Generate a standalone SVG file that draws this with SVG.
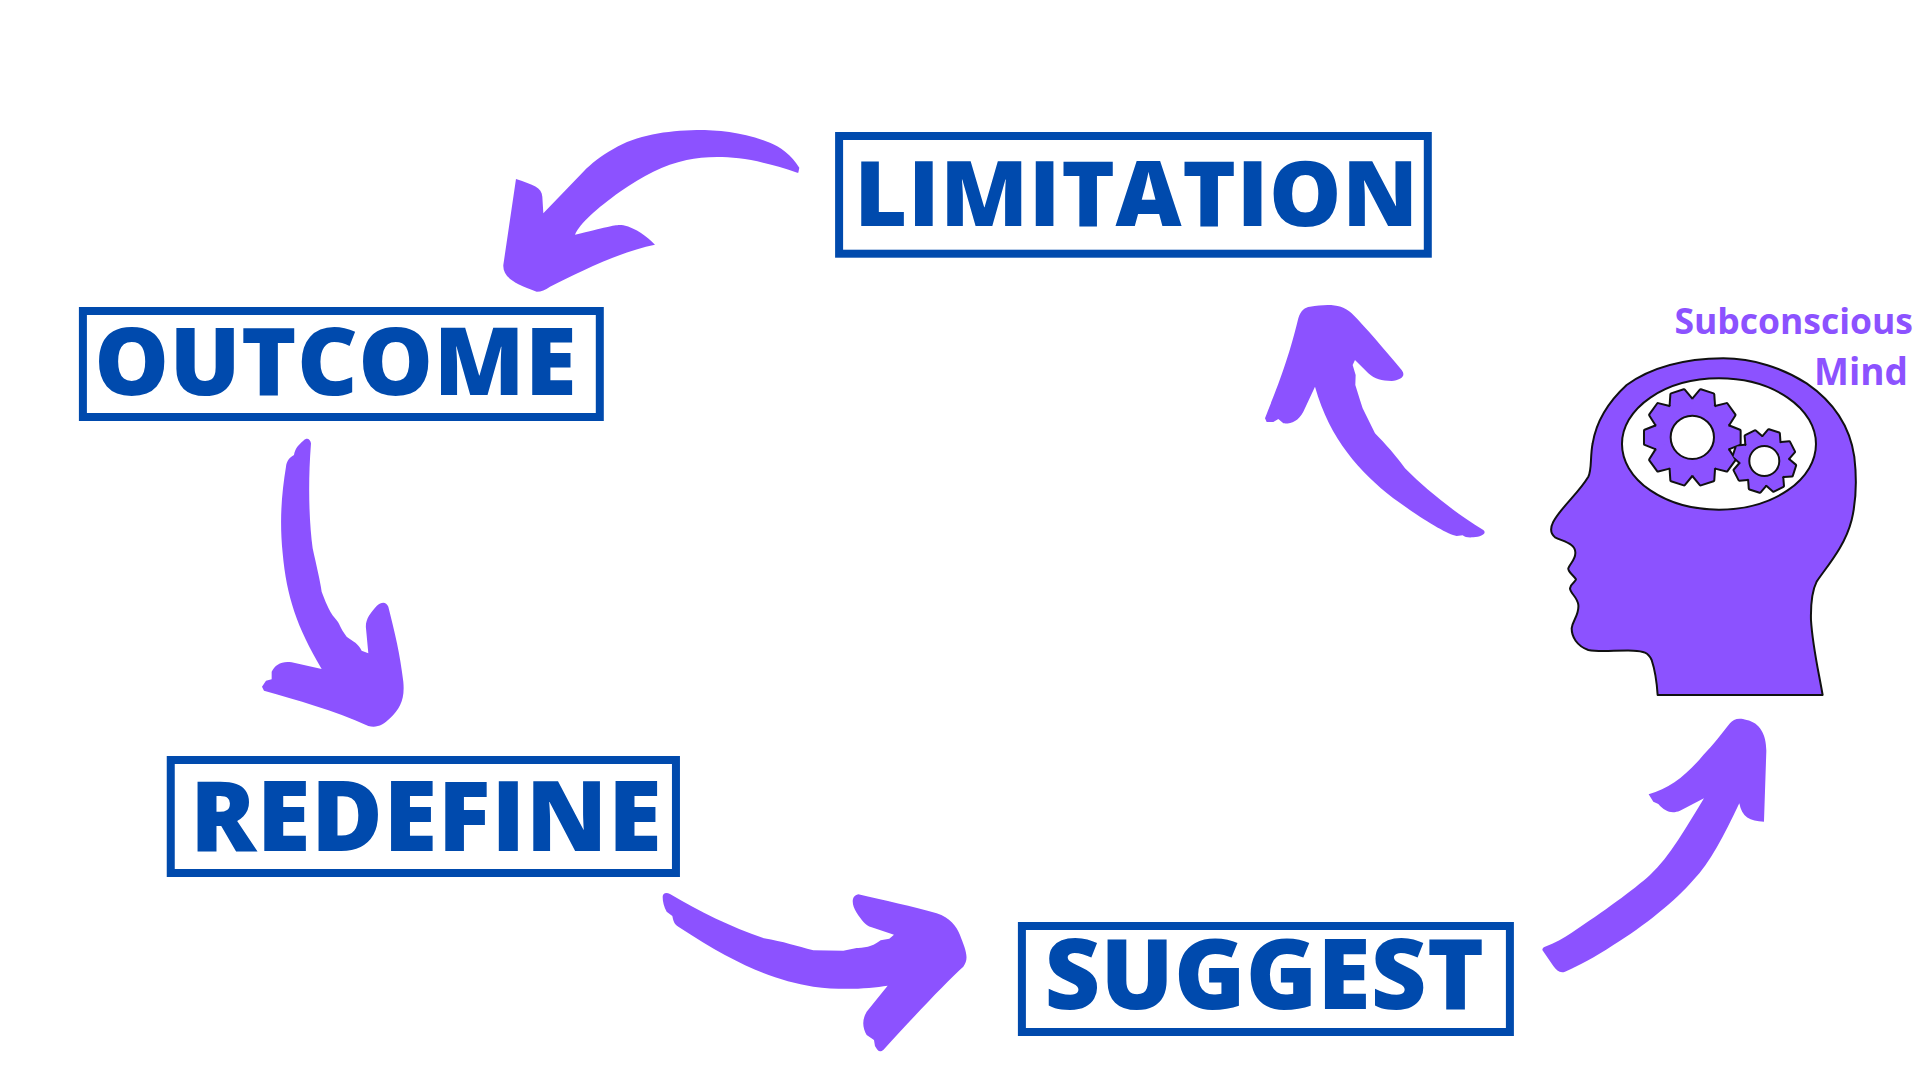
<svg xmlns="http://www.w3.org/2000/svg" xmlns:xlink="http://www.w3.org/1999/xlink" width="1920" height="1080" viewBox="0 0 1920 1080">
<style>
.box{fill:#fff;stroke:#004aad;stroke-width:8}
.lbl{font-family:"Open Sans","Liberation Sans",sans-serif;font-weight:800;fill:#004aad}
.sub{font-family:"Open Sans","Liberation Sans",sans-serif;font-weight:700;font-size:35.5px;fill:#8c52ff;text-anchor:end}
.arr{fill:#8c52ff}
.hp{fill:#8c52ff;stroke:#111;stroke-width:6;stroke-linejoin:round}
.hole{fill:#fff;stroke:#111;stroke-width:6}
.gb{fill:#111;stroke:#111;stroke-width:12;stroke-linejoin:round}
.gf{fill:#8c52ff}
</style>
<defs>
<g id="big">
<circle r="114"/>
<polygon id="t" points="-112,-32 -142,-20 -142,20 -112,32 112,32 142,20 142,-20 112,-32"/>
<use xlink:href="#t" href="#t" transform="rotate(36)"/>
<use xlink:href="#t" href="#t" transform="rotate(72)"/>
<use xlink:href="#t" href="#t" transform="rotate(108)"/>
<use xlink:href="#t" href="#t" transform="rotate(144)"/>
</g>
<g id="small">
<circle r="72"/>
<polygon id="s" points="-70,-25 -92,-16 -92,16 -70,25 70,25 92,16 92,-16 70,-25"/>
<use xlink:href="#s" href="#s" transform="rotate(45)"/>
<use xlink:href="#s" href="#s" transform="rotate(90)"/>
<use xlink:href="#s" href="#s" transform="rotate(135)"/>
</g>
</defs>
<rect width="1920" height="1080" fill="#fff"/>
<g id="connectors">
<path class="arr" transform="translate(480 100) scale(.3333)" d="M955,218 L958,203 C935,165 900,140 870,128 C790,97 720,90 650,90 C560,92 470,105 400,147 C360,170 335,190 310,215 L190,340 L187,290 C185,262 160,255 108,237 L70,495 C68,530 100,550 170,575 C185,575 195,570 210,560 C290,520 420,455 525,434 C500,410 470,385 430,376 C410,372 395,378 285,404 C300,370 350,325 420,275 C490,228 550,195 620,180 C700,165 800,165 952,218 Z"/>
<path class="arr" transform="translate(240 420) scale(.3333)" d="M213,70 C210,55 200,52 190,62 C175,75 165,85 162,105 C145,115 140,125 138,140 C125,220 118,300 128,400 C140,530 170,620 245,747 L155,727 C125,722 105,735 95,755 L95,778 L78,782 L66,800 L72,812 C170,840 280,870 385,918 C410,925 430,915 450,895 C480,865 495,840 490,785 C480,700 465,640 445,560 C438,545 425,545 410,558 C390,580 375,600 378,625 L385,700 L365,692 C355,670 340,665 320,650 C300,625 300,610 285,595 C265,570 255,540 245,515 C240,480 230,440 218,385 C208,310 203,200 213,70 Z"/>
<path class="arr" transform="translate(640 870) scale(.3333)" d="M68,80 C68,70 78,65 90,72 C180,125 270,170 372,205 C430,215 470,228 520,241 L610,242 L650,234 C680,235 705,225 722,211 L748,206 L762,194 L695,172 C675,165 665,150 650,128 C635,105 632,78 655,73 C730,90 820,110 890,130 C930,142 950,170 960,195 C975,235 990,265 970,290 C920,335 840,420 730,540 C718,550 712,540 705,528 L702,510 L680,495 C668,475 665,450 680,425 L743,347 C690,355 610,362 520,350 C400,330 290,285 115,170 C100,160 100,150 97,138 L80,125 C72,110 68,95 68,80 Z"/>
<path class="arr" transform="translate(1530 700) scale(.3333)" d="M37,750 C37,745 40,742 45,740 C75,728 100,715 125,698 C220,635 310,570 360,525 C420,470 470,380 522,295 L450,332 C425,342 405,335 385,312 L370,305 L356,283 C420,265 470,225 520,165 C550,135 580,95 600,70 C610,58 625,52 650,60 C690,68 710,105 709,155 L702,365 C660,365 635,350 628,310 C580,410 540,490 490,540 C440,600 340,680 250,735 C190,775 150,795 105,815 C90,820 80,812 70,798 Z"/>
<path class="arr" transform="translate(1250 290) scale(.3333)" d="M45,385 C70,320 110,230 145,85 C152,60 165,52 180,50 C230,42 275,40 305,70 C350,115 400,175 455,240 C470,260 450,270 425,273 C395,273 375,268 355,250 L315,210 L308,225 L317,255 L316,285 L330,330 L338,355 L375,430 C405,460 440,500 465,535 C530,600 610,665 700,720 C712,730 695,740 670,742 C655,743 645,742 638,736 L620,738 C590,732 520,690 430,625 C330,545 240,450 195,290 L160,365 C145,395 120,402 100,400 L85,387 L70,396 L50,396 Z"/>
</g>
<g id="limitation">
<rect class="box" x="839.100" y="136" width="588.700" height="117.700"/>
<text class="lbl" x="854.300" y="226" font-size="91" letter-spacing=".65">LIMITATION</text>
</g>
<g id="outcome">
<rect class="box" x="82.900" y="311" width="516.900" height="106"/>
<text class="lbl" x="94.200" y="395" font-size="94" letter-spacing=".4">OUTCOME</text>
</g>
<g id="redefine">
<rect class="box" x="170.750" y="760" width="505.200" height="113"/>
<text class="lbl" x="190" y="850.700" font-size="98" letter-spacing=".5">REDEFINE</text>
</g>
<g id="suggest">
<rect class="box" x="1021.900" y="926" width="488" height="106"/>
<text class="lbl" x="1044.500" y="1009" font-size="96.600" letter-spacing=".3">SUGGEST</text>
</g>
<g id="subconscious-mind">
<g transform="translate(1520 280) scale(.3333)">
<path class="hp" d="M413,1245 C410,1200 405,1170 395,1140 C385,1118 370,1113 340,1112 C290,1110 240,1118 205,1110 C170,1098 155,1070 155,1045 C158,1020 178,1005 175,975 C172,950 150,940 150,925 C152,910 168,905 168,898 C160,885 143,875 145,865 C150,850 166,840 166,820 C168,790 130,785 105,772 C90,760 90,745 100,725 C125,680 175,640 205,590 C216,570 210,530 218,490 C228,430 260,370 320,315 C390,265 480,236 610,235 C700,235 790,265 860,310 C940,365 990,440 1003,530 C1010,590 1012,650 995,720 C975,800 920,860 890,905 C875,935 872,975 873,1020 C878,1100 895,1170 908,1245 Z"/>
<ellipse class="hole" cx="597" cy="492" rx="291" ry="197"/>
<use href="#big" xlink:href="#big" class="gb" transform="translate(517 472)"/>
<use href="#small" xlink:href="#small" class="gb" transform="translate(733 543) rotate(18)"/>
<use href="#big" xlink:href="#big" class="gf" transform="translate(517 472)"/>
<use href="#small" xlink:href="#small" class="gf" transform="translate(733 543) rotate(18)"/>
<circle class="hole" cx="517" cy="472" r="65"/>
<circle class="hole" cx="733" cy="543" r="45"/>
</g>
<text class="sub" x="1913" y="334">Subconscious</text>
<text class="sub" x="1908" y="385" style="font-size:37px">Mind</text>
</g>
</svg>
